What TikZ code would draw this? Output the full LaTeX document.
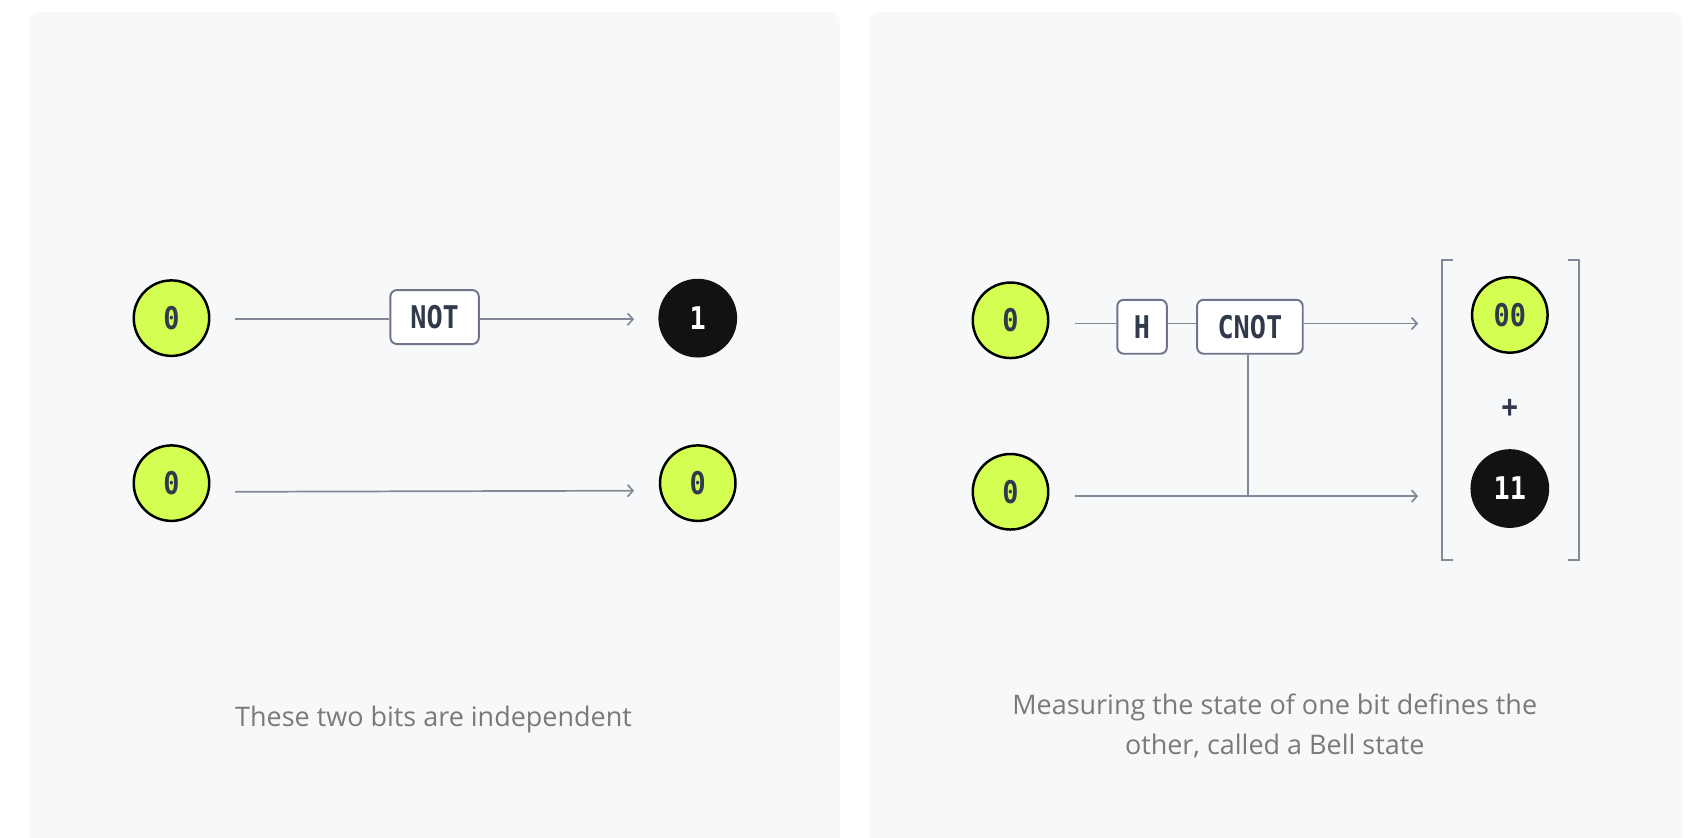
\documentclass[tikz,border=0pt]{standalone}
\usepackage{fontspec}
\setmainfont{Open Sans}
\setmonofont{DejaVu Sans Mono}[FakeStretch=0.86]
\usetikzlibrary{arrows.meta}
\definecolor{panelbg}{HTML}{F7F8FA}
\definecolor{lime}{HTML}{D4FF52}
\definecolor{ink}{HTML}{121212}
\definecolor{labelink}{HTML}{313A4B}
\definecolor{wirecol}{HTML}{858899}
\definecolor{boxline}{HTML}{70748A}
\definecolor{captext}{HTML}{7A7A7A}

\begin{document}
\begin{tikzpicture}[x=1pt,y=-1pt,
  panel/.style={fill=panelbg, draw=none, rounded corners=10pt},
  bitzero/.style={circle, minimum size=70pt, inner sep=0pt, fill=lime, draw=black,
    line width=2.3pt, text=labelink, font=\fontsize{29}{29}\ttfamily\bfseries},
  bitone/.style={circle, minimum size=73pt, inner sep=0pt, fill=ink, draw=none,
    text=white, font=\fontsize{29}{29}\ttfamily\bfseries},
  gate/.style={draw=boxline, line width=1.8pt, fill=white, rounded corners=6pt,
    minimum height=50pt, inner sep=0pt, text=labelink,
    font=\fontsize{29}{29}\ttfamily\bfseries},
  wire/.style={draw=wirecol, line width=1.6pt},
  arr/.style={wire, -{Straight Barb[length=5pt,width=11pt]}},
  bracketline/.style={draw=wirecol, line width=1.6pt},
  caption/.style={text=captext, font=\fontsize{25}{37}\selectfont, align=center}
]
\useasboundingbox (0,0) rectangle (1568,777);

% panels
\path[panel] (27,11) rectangle (779,820);
\path[panel] (806,11) rectangle (1560,820);

% ---------- left panel: two independent bits ----------
\node[bitzero] (a0) at (159,295) {0};
\node[bitzero] (b0) at (159,448) {0};
\node[bitone]  (a1) at (647,295) {1};
\node[bitzero] (b1) at (647,448) {0};
\node[gate, minimum width=82pt] (notg) at (403,294) {NOT};

\coordinate (a0o) at (218,296);
\coordinate (a1i) at (588,296);
\coordinate (b0o) at (218,456);
\coordinate (b1i) at (588,455);

\draw[wire] (a0o) -- (notg.west |- a0o);
\draw[arr] (notg.east |- a1i) -- (a1i);
\draw[arr] (b0o) -- (b1i);

\node[caption] (capl) at (402,667) {These two bits are independent};

% ---------- right panel: Bell state ----------
\node[bitzero] (c0) at (937,297) {0};
\node[bitzero] (d0) at (937,456) {0};
\node[gate, minimum width=46pt] (hg) at (1059,303) {H};
\node[gate, minimum width=98pt] (cnot) at (1159,303) {CNOT};

\coordinate (c0o) at (997,300);
\coordinate (c1i) at (1315,300);
\coordinate (d0o) at (997,460);
\coordinate (d1i) at (1315,460);
\coordinate (ctl) at (1157,460);

\draw[wire] (c0o) -- (hg.west |- c0o);
\draw[wire] (hg.east |- c0o) -- (cnot.west |- c0o);
\draw[arr] (cnot.east |- c1i) -- (c1i);
\draw[arr] (d0o) -- (d1i);
\draw[wire] (cnot.south -| ctl) -- (ctl);

\node[bitzero] (s00) at (1400,292) {00};
\node[text=labelink, font=\fontsize{29}{29}\ttfamily\bfseries] (plus) at (1400,379) {+};
\node[bitone] (s11) at (1400,453) {11};

\draw[bracketline] (1347,241) -- (1337,241) -- (1337,519) -- (1347,519);
\draw[bracketline] (1454,241) -- (1464,241) -- (1464,519) -- (1454,519);

\node[caption] (capr) at (1182,673) {Measuring the state of one bit defines the\\other, called a Bell state};
\end{tikzpicture}
\end{document}
